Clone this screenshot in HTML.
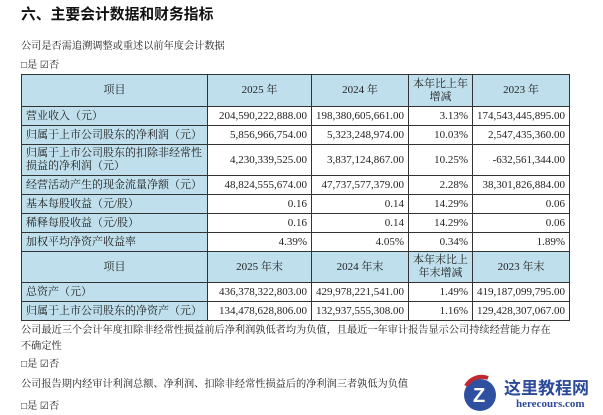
<!DOCTYPE html>
<html><head><meta charset="utf-8">
<style>
body{margin:0;width:603px;height:415px;background:#fff;overflow:hidden;position:relative;font-family:"Liberation Serif","Noto Serif CJK SC",serif;color:#222;}
.t{position:absolute;font-size:10.2px;white-space:nowrap;}
h1{position:absolute;left:21px;top:3px;margin:0;font-size:14.8px;font-weight:bold;font-family:"Liberation Sans","Noto Sans CJK SC",sans-serif;color:#111;}
table{position:absolute;left:21px;border-collapse:collapse;table-layout:fixed;font-size:11px;}
td{border:1px solid #333;padding:0 4px;height:18px;line-height:13px;}
td.l{background:#bfdfec;text-align:left;}
td.r{text-align:right;}
tr.h td{background:#bfdfec;text-align:center;}
</style></head><body>
<h1>六、主要会计数据和财务指标</h1>
<div class="t" style="left:21px;top:37px;">公司是否需追溯调整或重述以前年度会计数据</div>
<div class="t" style="left:21px;top:56px;">□是 ☑否</div>
<table style="top:74px;">
<colgroup><col style="width:186px"><col style="width:104px"><col style="width:96px"><col style="width:64px"><col style="width:97px"></colgroup>
<tr class="h" style="height:32px"><td>项目</td><td>2025 年</td><td>2024 年</td><td>本年比上年<br>增减</td><td>2023 年</td></tr>
<tr><td class="l">营业收入（元）</td><td class="r">204,590,222,888.00</td><td class="r">198,380,605,661.00</td><td class="r">3.13%</td><td class="r">174,543,445,895.00</td></tr>
<tr><td class="l">归属于上市公司股东的净利润（元）</td><td class="r">5,856,966,754.00</td><td class="r">5,323,248,974.00</td><td class="r">10.03%</td><td class="r">2,547,435,360.00</td></tr>
<tr style="height:31px"><td class="l">归属于上市公司股东的扣除非经常性<br>损益的净利润（元）</td><td class="r">4,230,339,525.00</td><td class="r">3,837,124,867.00</td><td class="r">10.25%</td><td class="r">-632,561,344.00</td></tr>
<tr><td class="l">经营活动产生的现金流量净额（元）</td><td class="r">48,824,555,674.00</td><td class="r">47,737,577,379.00</td><td class="r">2.28%</td><td class="r">38,301,826,884.00</td></tr>
<tr><td class="l">基本每股收益（元/股）</td><td class="r">0.16</td><td class="r">0.14</td><td class="r">14.29%</td><td class="r">0.06</td></tr>
<tr><td class="l">稀释每股收益（元/股）</td><td class="r">0.16</td><td class="r">0.14</td><td class="r">14.29%</td><td class="r">0.06</td></tr>
<tr><td class="l">加权平均净资产收益率</td><td class="r">4.39%</td><td class="r">4.05%</td><td class="r">0.34%</td><td class="r">1.89%</td></tr>
<tr class="h" style="height:31px"><td>项目</td><td>2025 年末</td><td>2024 年末</td><td>本年末比上<br>年末增减</td><td>2023 年末</td></tr>
<tr><td class="l">总资产（元）</td><td class="r">436,378,322,803.00</td><td class="r">429,978,221,541.00</td><td class="r">1.49%</td><td class="r">419,187,099,795.00</td></tr>
<tr><td class="l">归属于上市公司股东的净资产（元）</td><td class="r">134,478,628,806.00</td><td class="r">132,937,555,308.00</td><td class="r">1.16%</td><td class="r">129,428,307,067.00</td></tr>
</table>
<div class="t" style="left:21px;top:321px;">公司最近三个会计年度扣除非经常性损益前后净利润孰低者均为负值，且最近一年审计报告显示公司持续经营能力存在</div>
<div class="t" style="left:21px;top:337px;">不确定性</div>
<div class="t" style="left:21px;top:355px;">□是 ☑否</div>
<div class="t" style="left:21px;top:375px;">公司报告期内经审计利润总额、净利润、扣除非经常性损益后的净利润三者孰低为负值</div>
<div class="t" style="left:21px;top:397px;">□是 ☑否</div>
<div style="position:absolute;left:458px;top:374px;width:145px;height:41px;">
<svg width="40" height="40" style="position:absolute;left:0;top:0"><circle cx="22" cy="21" r="16" fill="#2f4fa0"/><path d="M8 12 A18 18 0 0 1 30 4" stroke="#c0282e" stroke-width="4" fill="none"/><text x="15" y="28" font-size="20" font-weight="bold" fill="#fff" font-family="Liberation Sans">Z</text></svg>
<div style="position:absolute;left:46px;top:0;font-size:17px;font-weight:bold;color:#2c4a9a;font-family:'Liberation Sans','Noto Sans CJK SC',sans-serif;">这里教程网</div>
<div style="position:absolute;left:58px;top:24px;font-size:11px;font-weight:bold;color:#2c4a9a;">herecours.com</div>
</div>
</body></html>
